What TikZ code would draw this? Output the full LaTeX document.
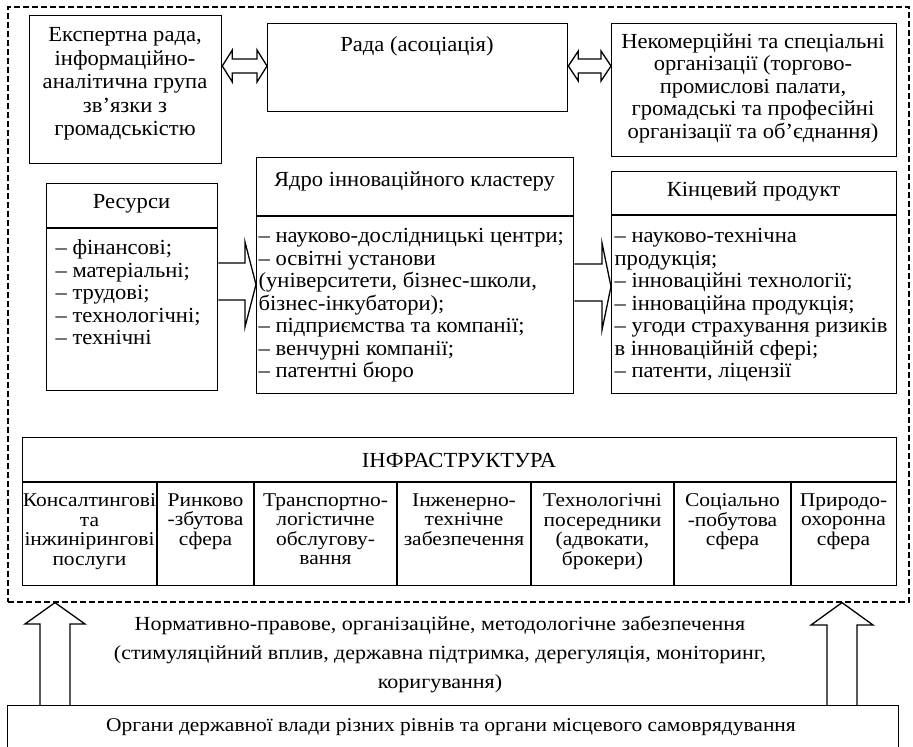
\documentclass[tikz,border=0pt]{standalone}
\usepackage{fontspec}
\setmainfont{Liberation Serif}[FakeStretch=1.05]
\newfontfamily\widefont{Liberation Serif}[FakeStretch=1.1]
\usetikzlibrary{calc}
\begin{document}
\begin{tikzpicture}[x=1pt,y=-1pt,line width=1.3pt,line join=miter,
  box/.style={draw,line width=1.3pt,inner sep=0pt,anchor=north west},
  txt/.style={inner sep=0pt,align=center,font=\fontsize{21.5}{23.5}\selectfont},
  lst/.style={inner sep=0pt,align=left,anchor=north west,font=\fontsize{21.5}{22.5}\selectfont},
  col/.style={inner sep=0pt,align=center,anchor=north,font=\widefont\fontsize{19.5}{19.5}\selectfont},
  barrow/.style={draw,line width=1.3pt,line join=miter},
  frame/.style={draw,line width=1.6pt,dash pattern=on 6pt off 3pt}]
\clip (0,0) rectangle (913,747);
% dashed frame
\node[frame,inner sep=0pt,anchor=north west,minimum width=901,minimum height=595] (fr) at (7,6) {};
% boxes
\node[box,minimum width=192,minimum height=148] (e) at (29,15) {};
\node[box,minimum width=300,minimum height=88] (r) at (267,23) {};
\node[box,minimum width=285,minimum height=133] (n) at (611,23) {};
\node[box,minimum width=171,minimum height=207] (res) at (46,183) {};
\node[box,minimum width=317,minimum height=236] (core) at (256,157) {};
\node[box,minimum width=285,minimum height=222] (fin) at (611,171) {};
\node[box,minimum width=874,minimum height=148] (inf) at (22,437) {};
\node[box,minimum width=891,minimum height=70] (gov) at (7,705) {};
% dividers
\draw (res.west |- 0,228) -- (res.east |- 0,228);
\draw (core.west |- 0,216) -- (core.east |- 0,216);
\draw (fin.west |- 0,215) -- (fin.east |- 0,215);
\draw (inf.west |- 0,482) -- (inf.east |- 0,482);
\foreach \cx in {157,254,397,531,674,791}{\draw (\cx,482) -- (\cx,0 |- inf.south);}
% texts
\node[txt] (et) at (125,84) {Експертна рада,\\інформаційно-\\аналітична група\\зв’язки з\\громадськістю};
\node[txt] (rt) at (417,46) {Рада (асоціація)};
\node[txt,font=\fontsize{21.5}{22.5}\selectfont] (nt) at (753,88) {Некомерційні та спеціальні\\організації (торгово-\\промислові палати,\\громадські та професійні\\організації та об’єднання)};
\node[txt] (rest) at (131.5,204) {Ресурси};
\node[lst] (resl) at (55,239) {– фінансові;\\– матеріальні;\\– трудові;\\– технологічні;\\– технічні};
\node[txt] (coret) at (414.5,181) {Ядро інноваційного кластеру};
\node[lst] (corel) at (258,228) {– науково-дослідницькі центри;\\– освітні установи\\(університети, бізнес-школи,\\бізнес-інкубатори);\\– підприємства та компанії;\\– венчурні компанії;\\– патентні бюро};
\node[txt] (fint) at (753.5,191) {Кінцевий продукт};
\node[lst] (finl) at (614,228) {– науково-технічна\\продукція;\\– інноваційні технології;\\– інноваційна продукція;\\– угоди страхування ризиків\\в інноваційній сфері;\\– патенти, ліцензії};
\node[txt] (inft) at (459,460) {ІНФРАСТРУКТУРА};
\node[col] (c1) at (89.5,493) {Консалтингові\\та\\інжинірингові\\послуги};
\node[col] (c2) at (205.5,493) {Ринково\\-збутова\\сфера};
\node[col] (c3) at (325.5,493) {Транспортно-\\логістичне\\обслугову-\\вання};
\node[col] (c4) at (464,493) {Інженерно-\\технічне\\забезпечення};
\node[col] (c5) at (602.5,493) {Технологічні\\посередники\\(адвокати,\\брокери)};
\node[col] (c6) at (732.5,493) {Соціально\\-побутова\\сфера};
\node[col] (c7) at (843.5,493) {Природо-\\охоронна\\сфера};
\node[txt,font=\widefont\fontsize{20}{29}\selectfont] (mt) at (440,654) {Нормативно-правове, організаційне, методологічне забезпечення\\(стимуляційний вплив, державна підтримка, дерегуляція, моніторинг,\\коригування)};
\node[txt,font=\widefont\fontsize{19.5}{22}\selectfont] (gt) at (451,727) {Органи державної влади різних рівнів та органи місцевого самоврядування};
% double arrows
\draw[barrow] (e.east |- 0,66) -- ($(e.east |- 0,50)+(10,0)$) -- ($(e.east |- 0,59)+(10,0)$) -- ($(r.west |- 0,59)+(-10,0)$) -- ($(r.west |- 0,50)+(-10,0)$) -- (r.west |- 0,66) -- ($(r.west |- 0,82)+(-10,0)$) -- ($(r.west |- 0,73)+(-10,0)$) -- ($(e.east |- 0,73)+(10,0)$) -- ($(e.east |- 0,82)+(10,0)$) -- cycle;
\draw[barrow] (r.east |- 0,66) -- ($(r.east |- 0,51)+(10,0)$) -- ($(r.east |- 0,59)+(10,0)$) -- ($(n.west |- 0,59)+(-10,0)$) -- ($(n.west |- 0,51)+(-10,0)$) -- (n.west |- 0,66) -- ($(n.west |- 0,81)+(-10,0)$) -- ($(n.west |- 0,73)+(-10,0)$) -- ($(r.east |- 0,73)+(10,0)$) -- ($(r.east |- 0,81)+(10,0)$) -- cycle;
% block arrows right
\draw[barrow] (res.east |- 0,263) -- ($(core.west |- 0,263)+(-11,0)$) -- ($(core.west |- 0,242)+(-11,0)$) -- (core.west |- 0,284.5) -- ($(core.west |- 0,327)+(-11,0)$) -- ($(core.west |- 0,300)+(-11,0)$) -- (res.east |- 0,300);
\draw[barrow] (core.east |- 0,264) -- ($(fin.west |- 0,264)+(-9,0)$) -- ($(fin.west |- 0,243)+(-9,0)$) -- (fin.west |- 0,286.5) -- ($(fin.west |- 0,330)+(-9,0)$) -- ($(fin.west |- 0,301)+(-9,0)$) -- (core.east |- 0,301);
% up arrows
\coordinate (lt) at (55,0 |- fr.south);
\coordinate (rtp) at (842,0 |- fr.south);
\draw[barrow] (40,0 |- gov.north) -- (40,624) -- (25,624) -- (lt) -- (85,624) -- (70,624) -- (70,0 |- gov.north);
\draw[barrow] (827,0 |- gov.north) -- (827,625) -- (811,625) -- (rtp) -- (873,625) -- (857,625) -- (857,0 |- gov.north);
\end{tikzpicture}
\end{document}
